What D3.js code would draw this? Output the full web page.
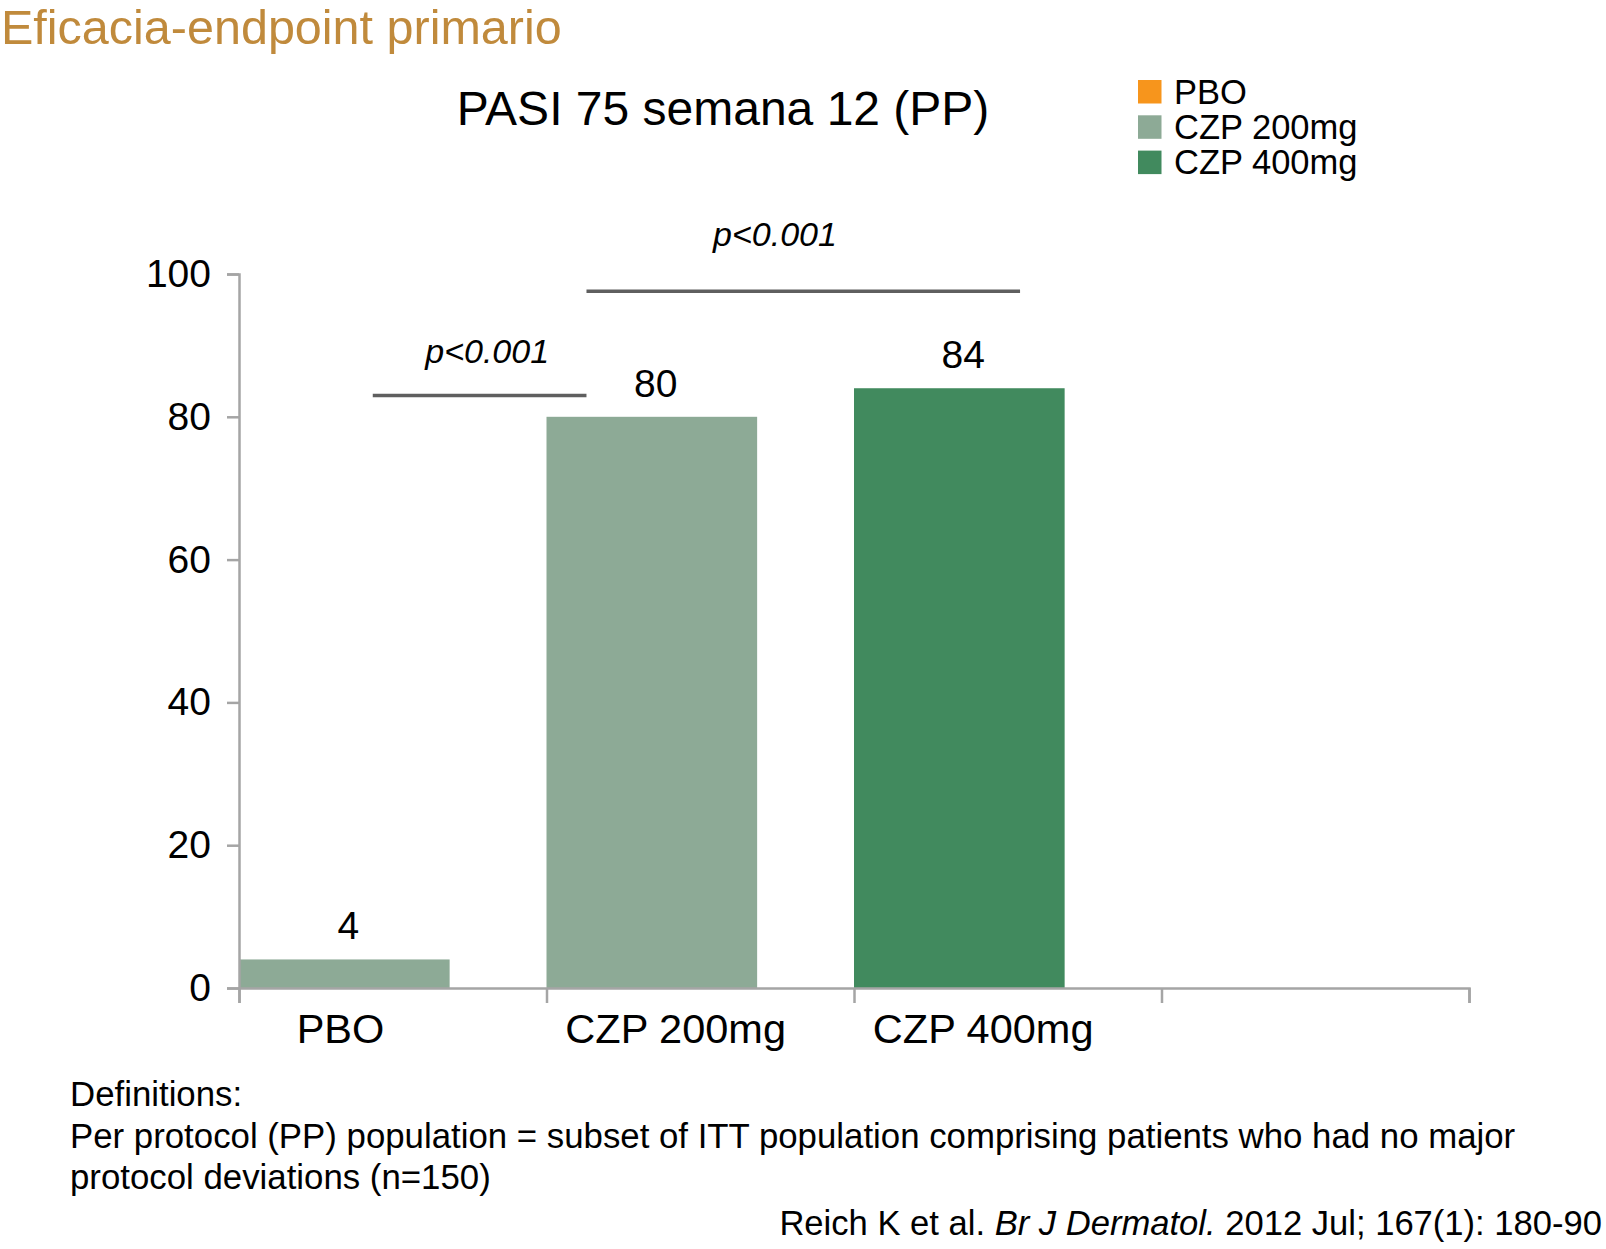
<!DOCTYPE html>
<html>
<head>
<meta charset="utf-8">
<script src="https://cdn.jsdelivr.net/npm/d3@7"></script>
<style>
  body { margin: 0; background: #fff; }
  text { font-family: "Liberation Sans", Arial, Helvetica, sans-serif; }
</style>
</head>
<body>
<div id="chart"></div>
<script>
// Data
const categories = ["PBO", "CZP 200mg", "CZP 400mg"];
const values = [4, 80, 84];
const slots = ["PBO", "CZP 200mg", "CZP 400mg", ""];   // 4th slot is empty on the axis
const yTicks = [0, 20, 40, 60, 80, 100];
const legendLabels = ["PBO", "CZP 200mg", "CZP 400mg"];
const pLabels = ["p<0.001", "p<0.001"];
const pFrom = [0.435, 1.13];   // in slot units
const pTo = [1.13, 2.54];
const pLevel = [83, 97.6];     // in y units
const pTextAt = [0.807, 1.743]; // label centre, slot units
const pTextLevel = [87.5, 103.9];

// Colours
const legendColour = ["#F7951C", "#8DAA96", "#418A5E"];
const barColour = ["#8DAA96", "#8DAA96", "#418A5E"];
const labelShift = [0.33, 0.42, 0.42]; // category label centre within its slot

// Dimensions
const dims = {width: 1606, height: 1249};
const plot = {left: 239, right: 1469, top: 274, bottom: 988};

const svg = d3.select("#chart")
  .append("svg")
  .attr("width", dims.width)
  .attr("height", dims.height);

// Scales
const x = d3.scaleBand()
  .domain(slots)
  .range([plot.left, plot.right])
  .padding(0);

const xEdge = d3.scaleLinear()
  .domain([0, slots.length])
  .range([plot.left, plot.right]);

const y = d3.scaleLinear()
  .domain([0, 100])
  .range([plot.bottom, plot.top]);

const barW = x.bandwidth() * 0.685;

// Headings
svg.append("text")
  .attr("x", 1)
  .attr("y", 44)
  .attr("fill", "#C08A3C")
  .style("font-size", "48.5px")
  .text("Eficacia-endpoint primario");

svg.append("text")
  .attr("x", 723)
  .attr("y", 125)
  .attr("text-anchor", "middle")
  .attr("fill", "#000")
  .style("font-size", "48px")
  .text("PASI 75 semana 12 (PP)");

// Legend
const legend = svg.append("g")
  .attr("transform", "translate(1138, 80)");

const item = legend.selectAll("g")
  .data(legendLabels)
  .enter()
  .append("g")
  .attr("transform", (d, i) => `translate(0, ${i * 35.3})`);

item.append("rect")
  .attr("width", 23.5)
  .attr("height", 23.5)
  .attr("fill", (d, i) => legendColour[i]);

item.append("text")
  .attr("x", 36)
  .attr("y", 23.5)
  .style("font-size", "34.5px")
  .attr("fill", "#000")
  .text(d => d);

// Bars
const data = categories.map((c, i) => ({cat: c, value: values[i], i: i}));

svg.append("g")
  .selectAll("rect")
  .data(data)
  .enter()
  .append("rect")
  .attr("x", d => x(d.cat))
  .attr("y", d => y(d.value))
  .attr("width", barW)
  .attr("height", d => y(0) - y(d.value))
  .attr("fill", d => barColour[d.i]);

// Value labels
svg.append("g")
  .selectAll("text")
  .data(data)
  .enter()
  .append("text")
  .attr("x", d => x(d.cat) + barW / 2 + 4)
  .attr("y", d => y(d.value) - 20)
  .attr("text-anchor", "middle")
  .style("font-size", "39px")
  .attr("fill", "#000")
  .text(d => d.value);

// Y axis
const yAxis = svg.append("g")
  .attr("transform", `translate(${plot.left}, 0)`)
  .call(d3.axisLeft(y).tickValues(yTicks).tickSize(12).tickPadding(16));

yAxis.select(".domain").attr("stroke", "#A5A5A5").attr("stroke-width", 2.5);
yAxis.selectAll(".tick line").attr("stroke", "#A5A5A5").attr("stroke-width", 2.5);
yAxis.selectAll(".tick text")
  .style("font-size", "39px")
  .style("font-family", "'Liberation Sans', Arial, sans-serif")
  .attr("fill", "#000");

// X axis (ticks at slot edges)
const xAxis = svg.append("g")
  .attr("transform", `translate(0, ${plot.bottom})`)
  .call(d3.axisBottom(xEdge).tickValues(d3.range(slots.length + 1)).tickSize(15).tickFormat(""));

xAxis.select(".domain").attr("stroke", "#A5A5A5").attr("stroke-width", 2.5);
xAxis.selectAll(".tick line").attr("stroke", "#A5A5A5").attr("stroke-width", 2.5);

// Category labels
svg.append("g")
  .selectAll("text")
  .data(categories)
  .enter()
  .append("text")
  .attr("x", (d, i) => x(d) + x.bandwidth() * labelShift[i])
  .attr("y", 1043)
  .attr("text-anchor", "middle")
  .style("font-size", "41.5px")
  .attr("fill", "#000")
  .text(d => d);

// Significance lines
const sig = svg.append("g");
pLabels.forEach((lab, i) => {
  sig.append("line")
    .attr("x1", xEdge(pFrom[i]))
    .attr("x2", xEdge(pTo[i]))
    .attr("y1", y(pLevel[i]))
    .attr("y2", y(pLevel[i]))
    .attr("stroke", "#5F5F5F")
    .attr("stroke-width", 3.5);
  sig.append("text")
    .attr("x", xEdge(pTextAt[i]))
    .attr("y", y(pTextLevel[i]))
    .attr("text-anchor", "middle")
    .style("font-size", "34px")
    .style("font-style", "italic")
    .attr("fill", "#000")
    .text(lab);
});

// Footnotes
const notes = [
  "Definitions:",
  "Per protocol (PP) population = subset of ITT population comprising patients who had no major",
  "protocol deviations (n=150)"
];
svg.append("g")
  .selectAll("text")
  .data(notes)
  .enter()
  .append("text")
  .attr("x", 70)
  .attr("y", (d, i) => 1106 + i * 41.5)
  .style("font-size", "34.8px")
  .attr("fill", "#000")
  .text(d => d);

const cite = svg.append("text")
  .attr("x", 1602)
  .attr("y", 1235)
  .attr("text-anchor", "end")
  .style("font-size", "34.6px")
  .attr("fill", "#000");
cite.append("tspan").text("Reich K et al. ");
cite.append("tspan").style("font-style", "italic").text("Br J Dermatol.");
cite.append("tspan").text(" 2012 Jul; 167(1): 180-90");
</script>
</body>
</html>
